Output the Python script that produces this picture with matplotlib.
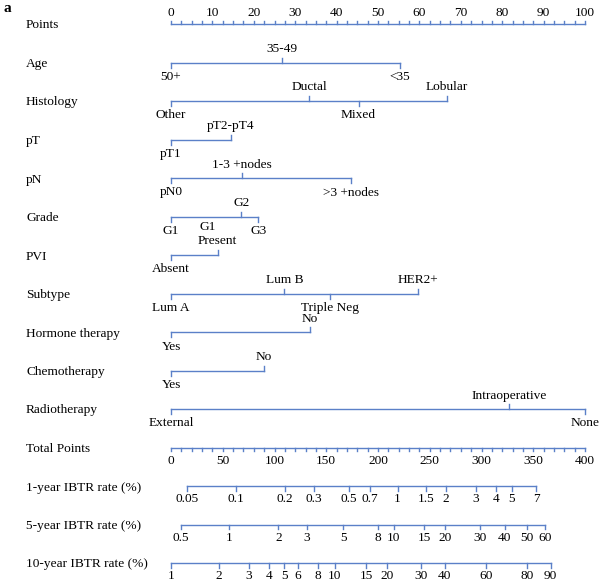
import numpy as np
import matplotlib
matplotlib.use("Agg")
import matplotlib.pyplot as plt

plt.rcParams['font.family'] = ['Liberation Serif', 'DejaVu Serif']

# row labels, top to bottom
row_names = ["Points", "Age", "Histology", "pT", "pN", "Grade", "PVI", "Subtype",
             "Hormone therapy", "Chemotherapy", "Radiotherapy", "Total Points",
             "1-year IBTR rate (%)", "5-year IBTR rate (%)", "10-year IBTR rate (%)"]

# categorical predictors: level names, points, label side (a = above, b = below)
age_levels = ["50+", "35-49", "<35"]
age_pts = [0, 26.7, 55.3]
age_side = ["b", "a", "b"]

hist_levels = ["Other", "Ductal", "Mixed", "Lobular"]
hist_pts = [0, 33.4, 45.3, 66.7]
hist_side = ["b", "a", "b", "a"]

pt_levels = ["pT1", "pT2-pT4"]
pt_pts = [0, 14.5]
pt_side = ["b", "a"]

pn_levels = ["pN0", "1-3 +nodes", ">3 +nodes"]
pn_pts = [0, 17.2, 43.5]
pn_side = ["b", "a", "b"]

grade_levels = ["G1", "G2", "G3"]
grade_pts = [0, 17.0, 21.1]
grade_side = ["b", "a", "b"]
grade_extra_label = "G1"
grade_extra_pts = 8.9

pvi_levels = ["Absent", "Present"]
pvi_pts = [0, 11.3]
pvi_side = ["b", "a"]

sub_levels = ["Lum A", "Lum B", "Triple Neg", "HER2+"]
sub_pts = [0, 27.4, 38.3, 59.6]
sub_side = ["b", "a", "b", "a"]

horm_levels = ["Yes", "No"]
horm_pts = [0, 33.5]
horm_side = ["b", "a"]

chemo_levels = ["Yes", "No"]
chemo_pts = [0, 22.4]
chemo_side = ["b", "a"]

radio_levels = ["External", "Intraoperative", "None"]
radio_pts = [0, 81.6, 100]
radio_side = ["b", "a", "b"]

# probability scales: labels and their total-points positions
p1_labels = ["0.05", "0.1", "0.2", "0.3", "0.5", "0.7", "1", "1.5", "2", "3", "4", "5", "7"]
p1_total = [15.9, 62.8, 110.1, 137.8, 171.7, 192.4, 219.0, 246.7, 265.9, 294.4, 313.9, 329.1, 353.1]

p5_labels = ["0.5", "1", "2", "3", "5", "8", "10", "15", "20", "30", "40", "50", "60"]
p5_total = [9.2, 56.1, 103.8, 131.1, 166.6, 199.8, 215.3, 244.9, 264.4, 298.4, 322.4, 343.9, 361.2]

p10_labels = ["1", "2", "3", "4", "5", "6", "8", "10", "15", "20", "30", "40", "60", "80", "90"]
p10_total = [0, 46.2, 75.0, 94.6, 109.3, 122.3, 142.2, 158.4, 188.4, 209.0, 241.2, 264.4, 304.7, 343.9, 366.8]

points_major = np.arange(0, 101, 10)
points_minor = np.arange(0, 100.1, 2.5)
total_major = np.arange(0, 401, 50)
total_minor = np.arange(0, 400.1, 10)
max_total = 400

col = "#5b80c8"
fs = 9.6
W, H = 600, 585

fig = plt.figure(figsize=(W / 100, H / 100), dpi=100)
ax = fig.add_axes([0, 0, 1, 1])
# x in points units (0 -> 171 px, 100 -> 585 px), y in row units (38.5 px per row)
px_x = 4.14
px_y = 38.5
ax.set_xlim(-171 / px_x, (W - 171) / px_x)
ax.set_ylim((H - 24) / px_y, -24 / px_y)
ax.axis("off")

dy = 1 / px_y  # one pixel vertically
lw = 1.0

for i, name in enumerate(row_names):
    ax.text(-145 / px_x, i + 1.5 * dy, name, fontsize=fs, ha="left", va="center")

ax.text(-168 / px_x, -16 * dy, "a", fontsize=11, fontweight="bold", ha="left", va="center")

# Points axis
r = 0
ax.plot([0, 100], [r, r], color=col, lw=lw)
for v in points_minor:
    ax.plot([v, v], [r, r - 3.5 * dy], color=col, lw=lw)
for v in points_major:
    ax.text(v, r - 11.5 * dy, str(v), fontsize=fs, ha="center", va="center")


def cat_row(r, levels, pts, side):
    ax.plot([min(pts), max(pts)], [r, r], color=col, lw=lw)
    for lab, p, s in zip(levels, pts, side):
        sgn = -1 if s == "a" else 1
        ax.plot([p, p], [r, r + sgn * 5 * dy], color=col, lw=lw)
        off = -13.5 if s == "a" else 14.5
        ax.text(p, r + off * dy, lab, fontsize=fs, ha="center", va="center")


cats = [(age_levels, age_pts, age_side), (hist_levels, hist_pts, hist_side),
        (pt_levels, pt_pts, pt_side), (pn_levels, pn_pts, pn_side),
        (grade_levels, grade_pts, grade_side), (pvi_levels, pvi_pts, pvi_side),
        (sub_levels, sub_pts, sub_side), (horm_levels, horm_pts, horm_side),
        (chemo_levels, chemo_pts, chemo_side), (radio_levels, radio_pts, radio_side)]
for k, (lv, pp, sd) in enumerate(cats):
    cat_row(k + 1, lv, pp, sd)
ax.text(grade_extra_pts, 5 + 11 * dy, grade_extra_label, fontsize=fs, ha="center", va="center")

# Total points axis
scale = 100 / max_total
r = 11
ax.plot([0, 100], [r, r], color=col, lw=lw)
for v in total_minor:
    ax.plot([v * scale, v * scale], [r, r + 3.5 * dy], color=col, lw=lw)
for v in total_major:
    ax.text(v * scale, r + 13.3 * dy, str(v), fontsize=fs, ha="center", va="center")


def prob_row(r, labels, totals):
    xs = np.array(totals) * scale
    ax.plot([xs.min(), xs.max()], [r, r], color=col, lw=lw)
    for lab, x in zip(labels, xs):
        ax.plot([x, x], [r, r + 4.5 * dy], color=col, lw=lw)
        ax.text(x, r + 13.3 * dy, lab, fontsize=fs, ha="center", va="center")


prob_row(12, p1_labels, p1_total)
prob_row(13, p5_labels, p5_total)
prob_row(14, p10_labels, p10_total)

fig.savefig("out.png", dpi=100)
